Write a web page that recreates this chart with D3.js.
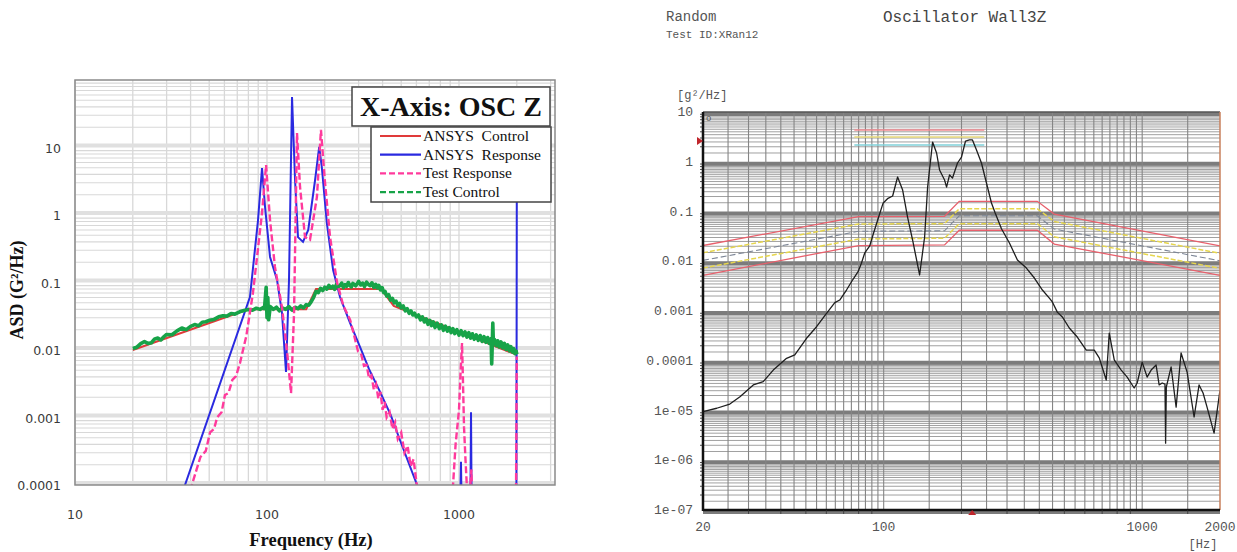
<!DOCTYPE html>
<html lang="en">
<head>
<meta charset="UTF-8">
<title>OSC Z random vibration</title>
<script src="https://d3js.org/d3.v7.min.js"></script>
<style>
  html, body { margin: 0; padding: 0; background: #fff; overflow: hidden; }
  svg { display: block; }
</style>
</head>
<body>
<svg id="chart" width="1237" height="552"></svg>
<script>
// ---------------- left panel data (Hz, G^2/Hz) ----------------
const ansysControlFreq = [20, 80, 160, 180, 393, 457, 2000];
const ansysControlAsd  = [0.01, 0.04, 0.04, 0.08, 0.08, 0.045, 0.0085];

const ansysResponseFreq = [20, 37.4, 81.5, 89.8, 94.2, 97.7, 103.7, 112.8, 119.7, 125.6, 130.2, 135, 140, 145, 154, 164, 178, 187, 193, 205, 221, 240, 271, 305, 340, 388, 440, 493, 605, 700, 1010, 1024, 1035, 1145, 1155, 1165, 1990, 2000];
const ansysResponseAsd  = [6e-7, 1e-4, 0.061, 0.84, 4.97, 1.31, 0.239, 0.109, 0.0353, 0.00472, 0.109, 56, 3.3, 0.47, 0.40, 0.6, 3.3, 10.2, 5.1, 0.76, 0.153, 0.061, 0.025, 0.0111, 0.0052, 0.0024, 0.0011, 4.6e-4, 1e-4, 3e-5, 3e-5, 2.2e-4, 3e-5, 3e-5, 1.2e-3, 3e-5, 3e-5, 3];

const testResponseFreq = [38, 40.6, 43, 45, 48, 50.5, 53, 55, 58, 60.4, 63, 66, 69, 72.3, 78, 84.5, 94.2, 98.9, 103.7, 110, 119.7, 127, 133.4, 138.3, 143.3, 148.6, 157.8, 167.5, 182, 191, 200, 213, 232, 250, 271, 285, 298, 310, 320, 330, 340, 350, 360, 370, 380, 390, 400, 410, 420, 435, 450, 465, 480, 500, 520, 540, 560, 580, 600, 625, 900, 931, 960, 1000, 1020, 1037, 1050, 1062, 1080, 1100, 1130, 1160, 1175, 1980, 2000];
const testResponseAsd  = [6e-5, 1e-4, 1.7e-4, 2.6e-4, 3.2e-4, 6e-4, 6.8e-4, 1.0e-3, 1.2e-3, 2.15e-3, 2.3e-3, 3.6e-3, 4.1e-3, 6.4e-3, 0.016, 0.07, 1.07, 5.5, 0.84, 0.17, 0.043, 0.01, 0.0023, 0.035, 16.4, 2.6, 0.47, 0.43, 1.85, 18.2, 3.3, 0.47, 0.098, 0.045, 0.028, 0.016, 0.0095, 0.0085, 0.0058, 0.0060, 0.0038, 0.0042, 0.0026, 0.0031, 0.0019, 0.0024, 0.0013, 0.0017, 0.0010, 0.0012, 6.8e-4, 8.5e-4, 4.8e-4, 6.0e-4, 3.0e-4, 3.8e-4, 1.9e-4, 2.4e-4, 1.1e-4, 5e-5, 5e-5, 1e-4, 4e-4, 1.3e-3, 5e-3, 0.0127, 3e-3, 7.2e-4, 2.5e-4, 9e-5, 5e-5, 1.7e-4, 5e-5, 5e-5, 0.008];

const testControlFreq = [20, 21, 22, 23, 24, 25, 26, 27, 28, 29, 30, 32, 34, 36, 38, 40, 42, 44, 46, 48, 50, 53, 56, 59, 62, 65, 68, 72, 76, 80, 84, 88, 92, 96, 97, 99, 100, 101, 102, 104, 108, 112, 116, 120, 125, 130, 135, 140, 145, 150, 155, 160, 165, 170, 175, 180, 185, 190, 195, 200, 205, 210, 215, 220, 225, 230, 235, 240, 245, 250, 255, 260, 265, 270, 275, 280, 290, 300, 308, 315, 322, 330, 338, 345, 352, 360, 368, 375, 382, 390, 398, 405, 412, 420, 430, 440, 450, 460, 470, 480, 490, 500, 512, 525, 537, 550, 562, 575, 587, 600, 615, 630, 645, 660, 675, 690, 705, 720, 735, 750, 770, 790, 810, 830, 850, 870, 890, 910, 930, 950, 975, 1000, 1025, 1050, 1075, 1100, 1125, 1150, 1175, 1200, 1230, 1260, 1290, 1320, 1350, 1380, 1410, 1440, 1470, 1480, 1490, 1500, 1510, 1530, 1560, 1590, 1620, 1655, 1690, 1725, 1760, 1795, 1830, 1865, 1900, 1930, 1960, 1985, 2000];
const testControlAsd  = [0.0105, 0.0110, 0.0124, 0.0133, 0.0125, 0.0128, 0.0146, 0.0150, 0.0141, 0.0157, 0.0170, 0.0168, 0.0192, 0.0212, 0.0200, 0.0224, 0.0238, 0.0229, 0.0258, 0.0262, 0.0275, 0.0284, 0.0310, 0.0322, 0.0318, 0.0348, 0.0340, 0.0368, 0.0385, 0.0398, 0.0388, 0.0416, 0.0400, 0.0428, 0.041, 0.085, 0.030, 0.060, 0.028, 0.044, 0.040, 0.043, 0.038, 0.042, 0.040, 0.044, 0.039, 0.043, 0.041, 0.045, 0.042, 0.047, 0.046, 0.052, 0.060, 0.074, 0.071, 0.082, 0.076, 0.085, 0.080, 0.091, 0.083, 0.088, 0.079, 0.094, 0.086, 0.090, 0.098, 0.084, 0.093, 0.088, 0.100, 0.091, 0.086, 0.097, 0.089, 0.104, 0.092, 0.098, 0.087, 0.101, 0.093, 0.090, 0.099, 0.085, 0.094, 0.083, 0.091, 0.078, 0.084, 0.071, 0.074, 0.063, 0.066, 0.055, 0.058, 0.050, 0.053, 0.046, 0.049, 0.042, 0.045, 0.038, 0.041, 0.035, 0.038, 0.033, 0.035, 0.031, 0.033, 0.028, 0.031, 0.026, 0.029, 0.024, 0.0275, 0.023, 0.026, 0.0215, 0.0250, 0.0207, 0.0236, 0.0196, 0.0225, 0.0190, 0.0215, 0.0181, 0.0208, 0.0175, 0.0200, 0.0166, 0.0193, 0.0163, 0.0185, 0.0155, 0.0181, 0.0150, 0.0174, 0.0144, 0.0167, 0.0139, 0.0164, 0.0134, 0.0158, 0.0130, 0.0153, 0.0125, 0.0148, 0.0062, 0.0120, 0.0250, 0.0128, 0.0143, 0.0116, 0.0137, 0.0111, 0.0132, 0.0107, 0.0125, 0.0102, 0.0119, 0.0097, 0.0112, 0.0093, 0.0105, 0.0088, 0.0096, 0.0086];

const leftLegend = ["ANSYS  Control", "ANSYS  Response", "Test Response", "Test Control"];
const leftXTicks = [10, 100, 1000];
const leftXTickLabels = ["10", "100", "1000"];
const leftYTicks = [0.0001, 0.001, 0.01, 0.1, 1, 10];
const leftYTickLabels = ["0.0001", "0.001", "0.01", "0.1", "1", "10"];

// ---------------- right panel data ----------------
const profileFreq = [20, 80, 172, 196, 393, 457, 2000];
const abortHigh = [0.0207, 0.079, 0.08, 0.16, 0.16, 0.089, 0.0203];
const alarmHigh = [0.0148, 0.056, 0.057, 0.113, 0.113, 0.063, 0.0144];
const profile   = [0.0104, 0.040, 0.041, 0.082, 0.082, 0.0445, 0.0102];
const alarmLow  = [0.0073, 0.028, 0.029, 0.057, 0.057, 0.031, 0.0072];
const abortLow  = [0.0052, 0.0207, 0.0213, 0.042, 0.042, 0.0222, 0.0052];

const responseFreq = [20, 22.6, 25.4, 27.8, 31.3, 34.2, 37.4, 42.1, 45.3, 50.3, 55, 60.1, 64.7, 67.6, 71.8, 76.1, 79.6, 82, 84.4, 88.3, 90.9, 94.8, 99.4, 103.9, 108.3, 113.2, 118.4, 123.7, 129.4, 137.7, 144, 147.9, 154.6, 160.2, 164.5, 172, 175.1, 179.8, 184.6, 193, 200, 207.3, 214.7, 220.5, 228.6, 238.9, 249.8, 261.2, 270, 285.5, 306.5, 329.1, 356.5, 382.8, 411.1, 437.4, 449.2, 469.6, 491, 522.4, 561, 607.7, 652.6, 682.2, 726, 745.8, 779.7, 829.7, 874.9, 931.1, 956.3, 999.8, 1045, 1083, 1132, 1163, 1195, 1225, 1232, 1240, 1294, 1353, 1414, 1492, 1588, 1660, 1720, 1782, 1897, 2000];
const responseAsd  = [9.5e-6, 1.11e-5, 1.35e-5, 1.89e-5, 3.26e-5, 3.8e-5, 6.5e-5, 1.12e-4, 1.31e-4, 2.83e-4, 4.83e-4, 9.0e-4, 1.47e-3, 1.66e-3, 2.64e-3, 4.34e-3, 6.17e-3, 9.1e-3, 0.0145, 0.0203, 0.0337, 0.0675, 0.146, 0.184, 0.205, 0.493, 0.27, 0.0774, 0.0267, 0.0053, 0.0307, 0.31, 2.49, 1.5, 0.683, 0.43, 0.31, 0.542, 0.471, 0.944, 1.24, 2.61, 2.74, 2.74, 1.72, 0.944, 0.374, 0.148, 0.093, 0.045, 0.0233, 0.0106, 0.0073, 0.0046, 2.64e-3, 1.82e-3, 1.52e-3, 9.5e-4, 7.6e-4, 4.55e-4, 3.0e-4, 1.64e-4, 1.64e-4, 1.14e-4, 4.1e-5, 3.6e-4, 1.04e-4, 6.5e-5, 4.7e-5, 2.83e-5, 3.57e-5, 9.4e-5, 4.7e-5, 6.5e-5, 8.2e-5, 3.26e-5, 3.57e-5, 3.4e-5, 2.2e-6, 2.97e-5, 7.5e-5, 1.17e-5, 1.43e-4, 5.9e-5, 7.4e-6, 3.26e-5, 2.25e-5, 1.17e-5, 3.5e-6, 2.58e-5];

const rmsFreq = [77, 245];
const rmsLevels = [4.35, 3.14, 2.17];

const rightXTicks = [20, 100, 1000, 2000];
const rightXTickLabels = ["20", "100", "1000", "2000"];
const rightYTicks = [10, 1, 0.1, 0.01, 0.001, 0.0001, 1e-5, 1e-6, 1e-7];
const rightYTickLabels = ["10", "1", "0.1", "0.01", "0.001", "0.0001", "1e-05", "1e-06", "1e-07"];

// ---------------------------------------------------------------
const svg = d3.select("#chart");
const zip = (a, b) => a.map((v, i) => [v, b[i]]);

// ============ LEFT PANEL ============
const L = { left: 75, top: 80, right: 555, bottom: 485 };
const xL = d3.scaleLog().domain([10, Math.pow(10, 3.5)]).range([L.left, L.right]);
const yL = d3.scaleLog().domain([1e-4, 100]).range([L.bottom, L.top]);

svg.append("clipPath").attr("id", "clipL")
  .append("rect").attr("x", L.left).attr("y", L.top)
  .attr("width", L.right - L.left).attr("height", L.bottom - L.top);

const gL = svg.append("g");

// vertical grid
const vGridL = [];
for (let d = 10; d <= 1000; d *= 10)
  for (let k = 1; k <= 9; k++) if (d * k <= 3200) vGridL.push(d * k);
gL.append("g").selectAll("line").data(vGridL).enter().append("line")
  .attr("x1", d => xL(d)).attr("x2", d => xL(d))
  .attr("y1", L.top).attr("y2", L.bottom)
  .attr("stroke", "#d8d8d8").attr("stroke-width", 1.3);

// horizontal grid
const hMinorL = [];
for (let e = -4; e < 2; e++)
  for (let k = 2; k <= 9; k++) hMinorL.push(k * Math.pow(10, e));
gL.append("g").selectAll("line").data(hMinorL).enter().append("line")
  .attr("x1", L.left).attr("x2", L.right)
  .attr("y1", d => yL(d)).attr("y2", d => yL(d))
  .attr("stroke", "#d8d8d8").attr("stroke-width", 1.1);
gL.append("g").selectAll("line").data(leftYTicks).enter().append("line")
  .attr("x1", L.left).attr("x2", L.right)
  .attr("y1", d => yL(d) - 2).attr("y2", d => yL(d) - 2)
  .attr("stroke", "#e0e0e0").attr("stroke-width", 4);

const lineL = d3.line().x(d => xL(d[0])).y(d => yL(d[1]));
const plotL = gL.append("g").attr("clip-path", "url(#clipL)");

plotL.append("path").datum(zip(ansysControlFreq, ansysControlAsd))
  .attr("d", lineL).attr("fill", "none").attr("stroke", "#e03a3a").attr("stroke-width", 2);
plotL.append("path").datum(zip(ansysResponseFreq, ansysResponseAsd))
  .attr("d", lineL).attr("fill", "none").attr("stroke", "#2a2ae0").attr("stroke-width", 2);
plotL.append("path").datum(zip(testControlFreq, testControlAsd))
  .attr("d", lineL).attr("fill", "none").attr("stroke", "#17a348").attr("stroke-width", 3.6)
  .attr("stroke-linejoin", "round");
plotL.append("path").datum(zip(testResponseFreq, testResponseAsd))
  .attr("d", lineL).attr("fill", "none").attr("stroke", "#ff3a9c").attr("stroke-width", 2.4)
  .attr("stroke-dasharray", "7,3");

// frame
gL.append("rect").attr("x", L.left).attr("y", L.top)
  .attr("width", L.right - L.left).attr("height", L.bottom - L.top)
  .attr("fill", "none").attr("stroke", "#8a8a8a").attr("stroke-width", 1.5);

// tick labels
gL.append("g").selectAll("text").data(leftYTicks).enter().append("text")
  .attr("x", 61).attr("y", d => yL(d) + 5)
  .attr("text-anchor", "end").attr("font-family", "DejaVu Sans").attr("font-size", 12.5)
  .attr("fill", "#3a3a3a").text((d, i) => leftYTickLabels[i]);
gL.append("g").selectAll("text").data(leftXTicks).enter().append("text")
  .attr("x", d => xL(d)).attr("y", 519)
  .attr("text-anchor", "middle").attr("font-family", "DejaVu Sans").attr("font-size", 12.5)
  .attr("fill", "#3a3a3a").text((d, i) => leftXTickLabels[i]);

// axis titles
gL.append("text").attr("x", 311).attr("y", 546).attr("text-anchor", "middle")
  .attr("font-family", "Liberation Serif").attr("font-weight", "bold").attr("font-size", 18.5)
  .attr("fill", "#111").text("Frequency (Hz)");
gL.append("text").attr("transform", "translate(23,290) rotate(-90)").attr("text-anchor", "middle")
  .attr("font-family", "Liberation Serif").attr("font-weight", "bold").attr("font-size", 18)
  .attr("fill", "#111").text("ASD (G²/Hz)");

// title box
gL.append("rect").attr("x", 352).attr("y", 87).attr("width", 198).attr("height", 39)
  .attr("fill", "#fff").attr("stroke", "#444").attr("stroke-width", 1.5);
gL.append("text").attr("x", 451).attr("y", 116).attr("text-anchor", "middle")
  .attr("font-family", "Liberation Serif").attr("font-weight", "bold").attr("font-size", 28)
  .attr("fill", "#111").text("X-Axis: OSC Z");

// legend
gL.append("rect").attr("x", 371).attr("y", 127).attr("width", 180).attr("height", 75)
  .attr("fill", "#fff").attr("stroke", "#444").attr("stroke-width", 1.5);
const legColors = ["#e03a3a", "#2a2ae0", "#ff3a9c", "#17a348"];
const legDash = [null, null, "6,3", "6,3"];
const leg = gL.append("g").selectAll("g").data(leftLegend).enter().append("g")
  .attr("transform", (d, i) => `translate(0,${136 + i * 18.7})`);
leg.append("line").attr("x1", 380).attr("x2", 421).attr("y1", 0).attr("y2", 0)
  .attr("stroke", (d, i) => legColors[i]).attr("stroke-width", 2.2)
  .attr("stroke-dasharray", (d, i) => legDash[i]);
leg.append("text").attr("x", 423).attr("y", 5)
  .attr("font-family", "Liberation Serif").attr("font-size", 15.5).attr("fill", "#111")
  .style("white-space", "pre").text(d => d);

// ============ RIGHT PANEL ============
const R = { left: 703, top: 112, right: 1220, bottom: 510 };
const xR = d3.scaleLog().domain([20, 2000]).range([R.left, R.right]);
const yR = d3.scaleLog().domain([1e-7, 10]).range([R.bottom, R.top]);
const gR = svg.append("g");

svg.append("clipPath").attr("id", "clipR")
  .append("rect").attr("x", R.left).attr("y", R.top)
  .attr("width", R.right - R.left).attr("height", R.bottom - R.top);

// dense horizontal grid
const hGridR = [];
for (let e = -7; e < 1; e++)
  for (let k = 1.5; k < 10; k += 0.5) hGridR.push(k * Math.pow(10, e));
gR.append("g").selectAll("line").data(hGridR).enter().append("line")
  .attr("x1", R.left).attr("x2", R.right)
  .attr("y1", d => yR(d)).attr("y2", d => yR(d))
  .attr("stroke", "#a0a0a0").attr("stroke-width", 1);
gR.append("g").selectAll("line").data(rightYTicks).enter().append("line")
  .attr("x1", R.left).attr("x2", R.right)
  .attr("y1", d => yR(d) + 2).attr("y2", d => yR(d) + 2)
  .attr("stroke", "#7c7c7c").attr("stroke-width", 4);

// vertical grid
const vGridR = [];
for (let f = 25; f < 100; f += 5) vGridR.push(f);
for (let f = 100; f < 1000; f += 50) vGridR.push(f);
vGridR.push(1000, 1500);
gR.append("g").selectAll("line").data(vGridR).enter().append("line")
  .attr("x1", d => xR(d)).attr("x2", d => xR(d))
  .attr("y1", R.top).attr("y2", R.bottom)
  .attr("stroke", "#858585").attr("stroke-width", 1.1);

const lineR = d3.line().x(d => xR(d[0])).y(d => yR(d[1]));
const plotR = gR.append("g").attr("clip-path", "url(#clipR)");

// tolerance lines
const tol = [
  { v: abortLow, c: "#e8606c", w: 1.3, dash: null },
  { v: alarmLow, c: "#e6d64e", w: 1.5, dash: "5,2" },
  { v: profile, c: "#7d8696", w: 1.1, dash: "6,3" },
  { v: alarmHigh, c: "#e6d64e", w: 1.5, dash: "5,2" },
  { v: abortHigh, c: "#e8606c", w: 1.3, dash: null }
];
plotR.append("g").selectAll("path").data(tol).enter().append("path")
  .attr("d", t => lineR(zip(profileFreq, t.v)))
  .attr("fill", "none").attr("stroke", t => t.c).attr("stroke-width", t => t.w)
  .attr("stroke-dasharray", t => t.dash);

// rms indicator lines at the top
const rmsColors = ["#f08a90", "#e8d878", "#7fd0d8"];
plotR.append("g").selectAll("line").data(rmsLevels).enter().append("line")
  .attr("x1", xR(rmsFreq[0])).attr("x2", xR(rmsFreq[1]))
  .attr("y1", d => yR(d)).attr("y2", d => yR(d))
  .attr("stroke", (d, i) => rmsColors[i]).attr("stroke-width", 1.4);

// measured response
plotR.append("path").datum(zip(responseFreq, responseAsd))
  .attr("d", lineR).attr("fill", "none").attr("stroke", "#1e1e1e").attr("stroke-width", 1.3)
  .attr("stroke-linejoin", "round");

// frame
gR.append("line").attr("x1", R.left).attr("x2", R.right).attr("y1", R.top).attr("y2", R.top)
  .attr("stroke", "#555").attr("stroke-width", 1.5);
gR.append("line").attr("x1", R.right).attr("x2", R.right).attr("y1", R.top).attr("y2", R.bottom)
  .attr("stroke", "#c9805c").attr("stroke-width", 1.5);
gR.append("line").attr("x1", R.left).attr("x2", R.left).attr("y1", R.top).attr("y2", R.bottom + 1)
  .attr("stroke", "#111").attr("stroke-width", 2.5);
gR.append("line").attr("x1", R.left).attr("x2", R.right).attr("y1", R.bottom).attr("y2", R.bottom)
  .attr("stroke", "#111").attr("stroke-width", 2.5);

// small ticks on the left axis
const yTickR = [];
for (let e = -7; e < 1; e++)
  for (let k = 2; k <= 9; k++) yTickR.push(k * Math.pow(10, e));
gR.append("g").selectAll("line").data(yTickR).enter().append("line")
  .attr("x1", R.left - 3).attr("x2", R.left)
  .attr("y1", d => yR(d)).attr("y2", d => yR(d))
  .attr("stroke", "#222").attr("stroke-width", 0.8);
const xTickR = [30, 40, 50, 60, 70, 80, 90, 200, 300, 400, 500, 600, 700, 800, 900, 1500];
gR.append("g").selectAll("line").data(xTickR).enter().append("line")
  .attr("x1", d => xR(d)).attr("x2", d => xR(d))
  .attr("y1", R.bottom).attr("y2", R.bottom + 4)
  .attr("stroke", "#333").attr("stroke-width", 0.8);

// markers
gR.append("path").attr("d", `M${R.left - 6},${yR(2.6) - 4} L${R.left},${yR(2.6)} L${R.left - 6},${yR(2.6) + 4} Z`)
  .attr("fill", "#c0262c");
gR.append("path").attr("d", `M${xR(220) - 4},${R.bottom + 5} L${xR(220)},${R.bottom} L${xR(220) + 4},${R.bottom + 5} Z`)
  .attr("fill", "#c0262c");
gR.append("text").attr("x", R.left + 3).attr("y", R.top + 9)
  .attr("font-family", "Liberation Mono").attr("font-size", 9).attr("fill", "#555").text("o");

// tick labels
const mono = "Liberation Mono, DejaVu Sans Mono, monospace";
gR.append("g").selectAll("text").data(rightYTicks).enter().append("text")
  .attr("x", 693).attr("y", d => yR(d) + 4)
  .attr("text-anchor", "end").attr("font-family", mono).attr("font-size", 13)
  .attr("fill", "#555").text((d, i) => rightYTickLabels[i]);
gR.append("g").selectAll("text").data(rightXTicks).enter().append("text")
  .attr("x", d => xR(d)).attr("y", 531)
  .attr("text-anchor", "middle").attr("font-family", mono).attr("font-size", 13)
  .attr("fill", "#555").text((d, i) => rightXTickLabels[i]);

gR.append("text").attr("x", 1203).attr("y", 548).attr("text-anchor", "middle")
  .attr("font-family", mono).attr("font-size", 12).attr("fill", "#555").text("[Hz]");
gR.append("text").attr("x", 677).attr("y", 99)
  .attr("font-family", mono).attr("font-size", 12).attr("fill", "#555").text("[g²/Hz]");

// headers
gR.append("text").attr("x", 666).attr("y", 21)
  .attr("font-family", mono).attr("font-size", 14).attr("fill", "#555").text("Random");
gR.append("text").attr("x", 666).attr("y", 38)
  .attr("font-family", mono).attr("font-size", 11).attr("fill", "#555").text("Test ID:XRan12");
gR.append("text").attr("x", 883).attr("y", 22)
  .attr("font-family", mono).attr("font-size", 16).attr("fill", "#444").text("Oscillator Wall3Z");
</script>
</body>
</html>
